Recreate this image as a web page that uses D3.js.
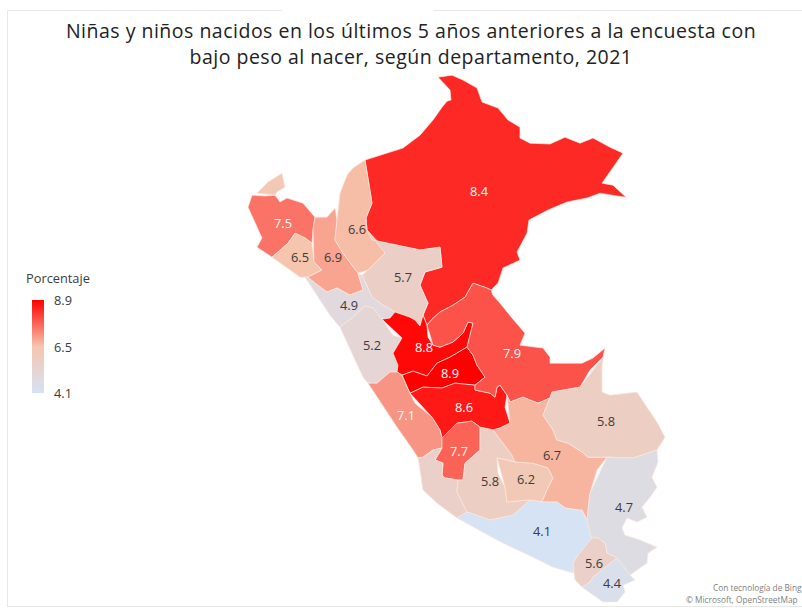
<!DOCTYPE html>
<html lang="es">
<head>
<meta charset="utf-8">
<title>Bajo peso al nacer, 2021</title>
<script src="https://cdn.jsdelivr.net/npm/d3@7"></script>
<style>
  html, body { margin: 0; padding: 0; background: #fff; }
  svg { display: block; }
  text { font-family: "Open Sans", sans-serif; }
</style>
</head>
<body>
<svg id="chart" width="802" height="608"></svg>
<script>
// Percentage of children with low birth weight by department (ENDES 2021).
const departments = ["Loreto","Piura","Tumbes","Lambayeque","Cajamarca","Amazonas","San Martín","La Libertad","Áncash","Huánuco","Pasco","Junín","Lima","Ucayali","Huancavelica","Ica","Ayacucho","Apurímac","Cusco","Madre de Dios","Arequipa","Puno","Moquegua","Tacna"];
const values = [8.4,7.5,6.3,6.5,6.9,6.6,5.7,4.9,5.2,8.8,8.9,8.6,7.1,7.9,7.7,5.6,5.8,6.2,6.7,5.8,4.1,4.7,5.6,4.4];
const labelled = [1,1,0,1,1,1,1,1,1,1,1,1,1,1,1,0,1,1,1,1,1,1,1,1];

// Where each value is written on the map, in degrees.
const labelLon = [-74.43,-80.31,-80.5,-79.80,-78.81,-78.09,-76.71,-78.33,-77.64,-76.08,-75.30,-74.88,-76.62,-73.44,-75.03,-75.5,-74.10,-73.02,-72.24,-70.62,-72.54,-70.08,-70.98,-70.44];
const labelLat = [-4.12,-5.21,-3.9,-6.43,-6.43,-5.42,-7.10,-8.08,-9.48,-9.55,-10.46,-11.68,-11.96,-9.76,-13.19,-14.5,-14.27,-14.20,-13.33,-12.17,-16.02,-15.15,-17.11,-17.84];

// Department outlines as [longitude, latitude] rings, same order as above.
const outlines = [
  // Loreto
  [[-77.85,-3.00],[-76.71,-2.58],[-76.20,-2.13],[-75.81,-1.60],[-75.54,-1.15],[-75.39,-0.94],[-75.27,-0.90],[-75.30,-0.55],[-75.66,-0.10],[-75.24,-0.03],[-74.91,-0.20],[-74.49,-0.48],[-74.34,-0.97],[-73.86,-1.18],[-73.56,-1.60],[-73.20,-1.85],[-73.20,-2.23],[-72.90,-2.41],[-72.30,-2.44],[-71.85,-2.20],[-71.40,-2.41],[-71.01,-2.23],[-70.50,-2.55],[-70.11,-2.76],[-70.74,-3.81],[-70.41,-3.88],[-70.02,-4.30],[-70.29,-4.26],[-70.80,-4.16],[-71.19,-4.33],[-71.79,-4.47],[-72.36,-4.75],[-72.93,-5.10],[-72.99,-5.56],[-73.29,-6.22],[-73.20,-6.50],[-73.71,-6.78],[-73.86,-7.31],[-74.07,-7.55],[-74.19,-7.48],[-74.61,-7.31],[-74.85,-7.80],[-75.21,-8.08],[-75.60,-8.32],[-75.84,-8.57],[-75.99,-8.78],[-76.11,-8.43],[-75.96,-8.01],[-76.20,-7.38],[-76.05,-6.92],[-75.54,-6.75],[-75.60,-6.05],[-76.20,-6.15],[-76.89,-5.98],[-77.64,-5.80],[-77.79,-5.45],[-77.82,-5.03],[-77.64,-4.51],[-77.61,-3.81]],
  // Piura
  [[-81.36,-4.65],[-81.24,-4.23],[-80.85,-4.26],[-80.55,-4.23],[-80.40,-4.47],[-80.19,-4.33],[-79.71,-4.51],[-79.35,-5.00],[-79.41,-5.45],[-79.44,-5.91],[-79.65,-5.73],[-79.95,-5.56],[-80.16,-5.91],[-80.64,-6.40],[-81.09,-6.05],[-80.94,-5.73],[-81.21,-5.17]],
  // Tumbes
  [[-81.09,-4.16],[-80.76,-3.77],[-80.34,-3.46],[-80.25,-3.95],[-80.49,-4.12],[-80.55,-4.23],[-80.85,-4.26]],
  // Lambayeque
  [[-80.64,-6.40],[-80.16,-5.91],[-79.95,-5.56],[-79.65,-5.73],[-79.44,-5.91],[-79.38,-6.57],[-79.14,-6.85],[-79.56,-7.10],[-79.80,-7.10],[-80.25,-6.75]],
  // Cajamarca
  [[-79.41,-5.45],[-79.35,-5.00],[-78.99,-5.00],[-78.75,-4.68],[-78.69,-5.10],[-78.75,-5.80],[-78.51,-6.26],[-78.06,-6.96],[-77.91,-7.55],[-78.30,-7.73],[-78.69,-7.48],[-78.99,-7.62],[-79.35,-7.31],[-79.56,-7.10],[-79.14,-6.85],[-79.38,-6.57],[-79.44,-5.91]],
  // Amazonas
  [[-77.85,-3.00],[-78.21,-3.28],[-78.39,-3.53],[-78.60,-4.16],[-78.69,-5.10],[-78.75,-5.80],[-78.51,-6.26],[-78.06,-6.96],[-77.76,-6.85],[-77.25,-6.26],[-77.31,-6.05],[-77.79,-5.45],[-77.82,-5.03],[-77.64,-4.51],[-77.61,-3.81]],
  // San Martín
  [[-77.79,-5.45],[-77.64,-5.80],[-76.89,-5.98],[-76.20,-6.15],[-75.60,-6.05],[-75.54,-6.75],[-76.05,-6.92],[-76.20,-7.38],[-75.96,-8.01],[-76.11,-8.43],[-76.20,-8.81],[-76.35,-8.60],[-76.50,-8.50],[-76.95,-8.32],[-77.31,-8.08],[-77.64,-7.80],[-77.94,-7.03],[-77.76,-6.85],[-77.25,-6.26],[-77.31,-6.05]],
  // La Libertad
  [[-79.65,-7.10],[-79.56,-7.10],[-79.35,-7.31],[-78.99,-7.62],[-78.69,-7.48],[-78.30,-7.73],[-77.91,-7.55],[-78.06,-6.96],[-77.94,-7.03],[-77.64,-7.80],[-77.31,-8.08],[-76.95,-8.32],[-77.10,-8.53],[-77.34,-8.57],[-77.61,-8.18],[-77.85,-8.11],[-78.21,-8.50],[-78.60,-8.85],[-78.90,-8.43],[-79.41,-7.66]],
  // Áncash
  [[-78.60,-8.85],[-78.21,-8.50],[-77.85,-8.11],[-77.61,-8.18],[-77.34,-8.57],[-77.01,-9.13],[-76.74,-9.23],[-77.01,-9.76],[-76.86,-10.18],[-76.89,-10.42],[-77.10,-10.42],[-77.49,-10.81],[-77.76,-10.81],[-77.91,-10.60],[-78.24,-9.83]],
  // Huánuco
  [[-77.34,-8.57],[-77.10,-8.53],[-76.95,-8.32],[-76.50,-8.50],[-76.35,-8.60],[-76.20,-8.81],[-76.11,-8.43],[-75.99,-8.78],[-75.96,-9.20],[-75.81,-9.48],[-75.60,-9.55],[-75.21,-9.37],[-74.91,-9.06],[-74.76,-8.67],[-74.61,-8.71],[-74.70,-9.13],[-74.79,-9.55],[-75.30,-9.90],[-75.69,-10.11],[-75.99,-10.56],[-76.41,-10.39],[-76.74,-10.53],[-76.89,-10.42],[-76.86,-10.18],[-77.01,-9.76],[-76.74,-9.23],[-77.01,-9.13]],
  // Pasco
  [[-76.74,-10.53],[-76.41,-10.39],[-75.99,-10.56],[-75.69,-10.11],[-75.30,-9.90],[-74.79,-9.55],[-74.61,-9.83],[-74.49,-10.18],[-74.25,-10.60],[-74.55,-10.88],[-75.15,-10.81],[-75.54,-10.98],[-76.11,-10.95],[-76.50,-11.16],[-76.59,-10.95]],
  // Junín
  [[-76.50,-11.16],[-76.11,-10.95],[-75.54,-10.98],[-75.15,-10.81],[-74.55,-10.88],[-74.55,-11.05],[-74.10,-11.16],[-73.95,-11.30],[-73.89,-10.95],[-73.80,-10.88],[-73.59,-11.23],[-73.65,-11.65],[-73.50,-12.21],[-73.80,-12.38],[-74.01,-12.45],[-74.40,-12.35],[-74.64,-12.14],[-75.09,-12.21],[-75.45,-12.80],[-75.54,-12.73],[-75.60,-12.45],[-75.84,-12.00],[-76.35,-11.51]],
  // Lima
  [[-77.76,-10.81],[-77.49,-10.81],[-77.10,-10.42],[-76.89,-10.42],[-76.74,-10.53],[-76.59,-10.95],[-76.50,-11.16],[-76.35,-11.51],[-75.84,-12.00],[-75.60,-12.45],[-75.54,-12.73],[-75.54,-13.08],[-75.81,-13.15],[-76.11,-13.40],[-76.26,-13.43],[-76.41,-13.15],[-76.89,-12.35],[-77.40,-11.51]],
  // Ucayali
  [[-75.99,-8.78],[-75.84,-8.57],[-75.60,-8.32],[-75.21,-8.08],[-74.85,-7.80],[-74.61,-7.31],[-74.19,-7.48],[-74.07,-7.55],[-74.01,-7.73],[-73.80,-8.01],[-73.44,-8.53],[-73.05,-9.06],[-73.20,-9.48],[-72.51,-9.58],[-72.30,-9.90],[-72.30,-10.11],[-71.34,-10.11],[-71.01,-9.93],[-70.65,-9.58],[-70.71,-9.90],[-71.10,-10.35],[-71.40,-10.95],[-72.24,-11.12],[-72.30,-11.33],[-72.66,-11.51],[-73.11,-11.30],[-73.50,-11.47],[-73.59,-11.23],[-73.80,-10.88],[-73.89,-10.95],[-73.95,-11.30],[-74.10,-11.16],[-74.55,-11.05],[-74.55,-10.88],[-74.25,-10.60],[-74.49,-10.18],[-74.61,-9.83],[-74.79,-9.55],[-74.70,-9.13],[-74.61,-8.71],[-74.76,-8.67],[-74.91,-9.06],[-75.21,-9.37],[-75.60,-9.55],[-75.81,-9.48],[-75.96,-9.20]],
  // Huancavelica
  [[-75.09,-12.21],[-74.64,-12.14],[-74.40,-12.35],[-74.40,-12.70],[-74.40,-13.15],[-74.85,-13.61],[-74.91,-14.20],[-75.06,-14.20],[-75.45,-14.13],[-75.54,-14.03],[-75.51,-13.61],[-75.75,-13.50],[-75.54,-13.08],[-75.54,-12.73],[-75.45,-12.80]],
  // Ica
  [[-76.26,-13.43],[-76.11,-13.40],[-75.81,-13.15],[-75.54,-13.08],[-75.75,-13.50],[-75.51,-13.61],[-75.54,-14.03],[-75.45,-14.13],[-75.06,-14.20],[-75.09,-14.62],[-74.79,-15.32],[-75.09,-15.53],[-75.69,-15.01],[-76.11,-14.55],[-76.35,-14.03]],
  // Ayacucho
  [[-74.40,-12.35],[-74.01,-12.45],[-73.44,-13.33],[-73.35,-13.57],[-73.59,-13.50],[-73.89,-13.43],[-73.86,-13.96],[-73.65,-14.45],[-73.59,-14.97],[-72.99,-14.90],[-72.90,-14.90],[-73.41,-15.43],[-74.10,-15.60],[-74.79,-15.32],[-75.09,-14.62],[-75.06,-14.20],[-74.91,-14.20],[-74.85,-13.61],[-74.40,-13.15],[-74.40,-12.70]],
  // Apurímac
  [[-73.89,-13.43],[-73.59,-13.50],[-73.35,-13.57],[-72.81,-13.61],[-72.36,-13.78],[-72.21,-14.13],[-72.39,-14.55],[-72.54,-14.97],[-72.90,-14.90],[-72.99,-14.90],[-73.59,-14.97],[-73.65,-14.45],[-73.86,-13.96]],
  // Cusco
  [[-73.59,-11.23],[-73.50,-11.47],[-73.11,-11.30],[-72.66,-11.51],[-72.30,-11.33],[-72.51,-11.93],[-72.21,-12.45],[-72.09,-12.80],[-71.76,-12.91],[-71.34,-13.22],[-71.16,-13.40],[-70.59,-13.40],[-70.89,-13.85],[-71.10,-14.66],[-71.19,-15.60],[-71.34,-15.25],[-71.46,-15.25],[-71.85,-15.18],[-72.09,-14.97],[-72.54,-14.97],[-72.39,-14.55],[-72.21,-14.13],[-72.36,-13.78],[-72.81,-13.61],[-73.35,-13.57],[-73.44,-13.33],[-74.01,-12.45],[-73.80,-12.38],[-73.50,-12.21],[-73.65,-11.65]],
  // Madre de Dios
  [[-70.71,-9.90],[-70.74,-10.25],[-70.74,-11.12],[-70.50,-11.23],[-69.69,-11.12],[-69.39,-11.65],[-69.09,-12.17],[-68.85,-12.70],[-69.09,-13.15],[-69.81,-13.43],[-70.59,-13.40],[-71.16,-13.40],[-71.34,-13.22],[-71.76,-12.91],[-72.09,-12.80],[-72.21,-12.45],[-72.51,-11.93],[-72.30,-11.33],[-72.24,-11.12],[-71.40,-10.95],[-71.10,-10.35]],
  // Arequipa
  [[-75.09,-15.53],[-74.79,-15.32],[-74.10,-15.60],[-73.41,-15.43],[-72.90,-14.90],[-72.54,-14.97],[-72.09,-14.97],[-71.85,-15.18],[-71.46,-15.25],[-71.34,-15.25],[-71.19,-15.60],[-71.10,-16.06],[-71.04,-16.23],[-71.10,-16.55],[-71.46,-16.83],[-71.61,-17.11],[-71.58,-17.46],[-72.21,-17.25],[-72.81,-16.90],[-73.71,-16.41],[-74.40,-16.02]],
  // Puno
  [[-70.59,-13.40],[-69.81,-13.43],[-69.09,-13.15],[-69.06,-13.57],[-69.24,-14.10],[-69.09,-14.45],[-69.30,-14.80],[-69.54,-15.15],[-69.39,-15.50],[-69.69,-15.67],[-69.99,-15.53],[-70.14,-15.88],[-70.05,-16.13],[-69.60,-16.30],[-69.09,-16.55],[-69.36,-16.76],[-69.39,-17.11],[-69.69,-17.35],[-69.90,-17.53],[-70.29,-16.93],[-70.59,-16.76],[-70.65,-16.41],[-70.86,-16.23],[-71.04,-16.23],[-71.10,-16.06],[-71.19,-15.60],[-71.10,-14.66],[-70.89,-13.85]],
  // Moquegua
  [[-71.04,-16.23],[-70.86,-16.23],[-70.65,-16.41],[-70.59,-16.76],[-70.29,-16.93],[-70.56,-17.18],[-71.01,-17.60],[-71.10,-17.77],[-71.34,-17.95],[-71.55,-17.70],[-71.58,-17.46],[-71.61,-17.11],[-71.46,-16.83],[-71.10,-16.55]],
  // Tacna
  [[-71.34,-17.95],[-71.10,-17.77],[-71.01,-17.60],[-70.56,-17.18],[-70.29,-16.93],[-69.90,-17.53],[-69.75,-17.70],[-70.11,-17.88],[-70.05,-18.12],[-70.29,-18.47],[-70.71,-18.47],[-71.10,-18.16]]
];

const titleLines = ["Niñas y niños nacidos en los últimos 5 años anteriores a la encuesta con", "bajo peso al nacer, según departamento, 2021"];
const legendTitle = "Porcentaje";
const legendTicks = [8.9, 6.5, 4.1];
const creditLines = ["Con tecnología de Bing", "© Microsoft, OpenStreetMap"];

const svg = d3.select("#chart");

// Plain equirectangular placement of the degree grid on the page.
const xDeg = d3.scaleLinear().domain([-88.8, -64.8]).range([0, 800]);
const yDeg = d3.scaleLinear().domain([2.6, -18.4]).range([0, 600]);
const placement = d3.geoTransform({
  point(lon, lat) { this.stream.point(xDeg(lon), yDeg(lat)); }
});
const path = d3.geoPath(placement);

// Diverging ramp: pale blue-grey at the minimum, peach in the middle, pure red at the maximum.
const color = d3.scaleLinear()
  .domain([4.1, 6.5, 8.9])
  .range(["#d6e3f5", "#f6c5ae", "#ff0000"]);

// Panel edges of the exported visual.
svg.append("path")
  .attr("d", "M7.5,607V10.5H282M433,10.5H802M7.5,606.5H802")
  .attr("fill", "none")
  .attr("stroke", "#e8e8e8")
  .attr("stroke-width", 1);

svg.append("g").selectAll("text").data(titleLines).join("text")
  .attr("x", 411)
  .attr("y", (d, i) => 38 + i * 26)
  .attr("text-anchor", "middle")
  .attr("font-size", 19.5)
  .attr("letter-spacing", 0.5)
  .attr("fill", "#222")
  .text(d => d);

const features = departments.map((name, i) => ({
  type: "Feature",
  properties: { name, value: values[i], labelled: labelled[i], lon: labelLon[i], lat: labelLat[i] },
  geometry: { type: "Polygon", coordinates: [outlines[i]] }
}));

svg.append("g").selectAll("path").data(features).join("path")
  .attr("d", path)
  .attr("fill", d => color(d.properties.value))
  .attr("stroke", "#fbe6df")
  .attr("stroke-width", 0.7)
  .attr("stroke-linejoin", "round");

svg.append("g").selectAll("text")
  .data(features.filter(d => d.properties.labelled))
  .join("text")
  .attr("x", d => xDeg(d.properties.lon))
  .attr("y", d => yDeg(d.properties.lat))
  .attr("dy", "0.35em")
  .attr("text-anchor", "middle")
  .attr("font-size", 12.8)
  .attr("fill", d => d.properties.value >= 7 ? "#fff" : "#3c3c3c")
  .text(d => d.properties.value.toFixed(1));

// Legend: vertical colour ramp with its three ticks.
const legendY = d3.scaleLinear().domain([8.9, 4.1]).range([300, 393]);
const gradient = svg.append("defs").append("linearGradient")
  .attr("id", "ramp").attr("x1", 0).attr("x2", 0).attr("y1", 0).attr("y2", 1);
gradient.selectAll("stop").data(legendTicks).join("stop")
  .attr("offset", d => (legendY(d) - 300) / 93)
  .attr("stop-color", d => color(d));

svg.append("rect")
  .attr("x", 32).attr("y", 300).attr("width", 12).attr("height", 93)
  .attr("fill", "url(#ramp)");

svg.append("text")
  .attr("x", 26).attr("y", 283)
  .attr("font-size", 12.8).attr("fill", "#3c3c3c")
  .text(legendTitle);

svg.append("g").selectAll("text").data(legendTicks).join("text")
  .attr("x", 54)
  .attr("y", d => legendY(d) + 1)
  .attr("dy", "0.35em")
  .attr("font-size", 12.8).attr("fill", "#3c3c3c")
  .text(d => d.toFixed(1));

// Map attribution in the lower right corner of the panel.
svg.append("g").selectAll("text").data(creditLines).join("text")
  .attr("x", (d, i) => i ? 686 : 713)
  .attr("y", (d, i) => 591 + i * 11.5)
  .attr("font-size", 8.3).attr("fill", "#808080")
  .text(d => d);
</script>
</body>
</html>
